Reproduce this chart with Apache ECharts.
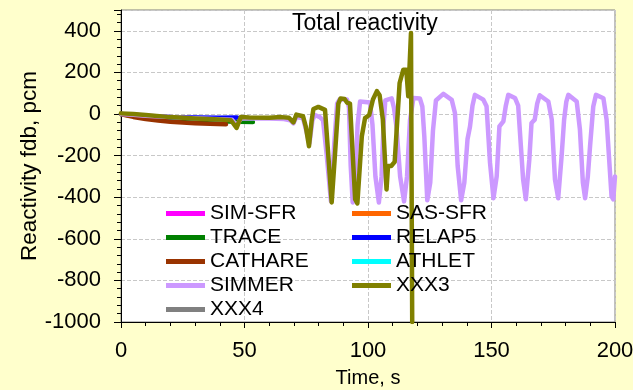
<!DOCTYPE html>
<html>
<head>
<meta charset="utf-8">
<script src="https://cdn.jsdelivr.net/npm/echarts@6/dist/echarts.min.js"></script>
<style>html,body{margin:0;padding:0;background:#FFFFCC;}#c{width:633px;height:390px;}</style>
</head>
<body>
<div id="c"></div>
<script>
// ---- data (time s, reactivity pcm) ----
const seriesNames = ['SIM-SFR','SAS-SFR','TRACE','RELAP5','CATHARE','ATHLET','SIMMER','XXX3','XXX4'];
const legendLeftCol = ['SIM-SFR','TRACE','CATHARE','SIMMER','XXX4'];
const legendRightCol = ['SAS-SFR','RELAP5','ATHLET','XXX3'];
const simSfr = [];
const sasSfr = [];
const athlet = [];
const xxx4 = [];
const trace = [[0,0],[5,-10],[10,-18],[20,-27],[30,-32],[40,-35],[48,-37],[53.4,-38]];
const relap5 = [[0,0],[5,-5],[10,-10],[20,-15],[30,-17],[40,-18],[47,-17]];
const cathare = [[0,0],[2,-6],[5,-14],[10,-24],[15,-31],[20,-37],[25,-41],[30,-44],[36,-47],[42.5,-49]];
const simmer = [[0,0],[5,-4],[10,-8],[20,-15],[30,-20],[40,-25],[45,-28],[46.8,-55],[48.5,-22],[55,-22],[60,-22],[66,-24],[68.5,-30],[69.8,-45],[71,-15],[73.7,-20],[75,-80],[76.3,-140],[77.5,-30],[78.5,-5],[80.5,-15],[81.8,-30],[83.3,-200],[85,-420],[86.3,-150],[87.5,50],[88.5,70],[91.5,70],[92.3,30],[93,-250],[93.8,-425],[94.8,-330],[95.8,-50],[96.8,60],[100.8,55],[101.8,-50],[103,-300],[104.4,-425],[105.5,-300],[106.3,-50],[107,65],[109.6,75],[110.5,30],[111.5,-60],[113,-300],[114.6,-420],[115.8,-300],[117,-30],[118.4,77],[121,75],[122,36],[122.8,-108],[124,-415],[125.2,-330],[126.3,-80],[127.5,65],[130.5,97],[133.9,68],[135.2,5],[136.3,-250],[137.7,-415],[139,-330],[140.3,-120],[141.3,-60],[142.3,40],[143.3,92],[146.7,69],[148,37],[149.4,-235],[150.8,-405],[152.1,-300],[153.2,-60],[154.8,-35],[155.8,40],[156.8,92],[159.5,77],[160.8,40],[162.8,-315],[163.9,-410],[165.3,-220],[166.2,-43],[167.5,-27],[168.5,50],[169.5,90],[173,60],[174.4,-27],[175.7,-315],[177,-405],[178.4,-200],[179.4,-27],[180.3,60],[181.1,92],[184.5,60],[185.8,-75],[187,-330],[187.9,-405],[189,-300],[189.9,-155],[191.2,36],[192.3,92],[195.3,76],[196.6,-27],[198.6,-396],[199.3,-410],[200,-300]];
const xxx3 = [[0,3],[5,0],[10,-5],[20,-15],[30,-22],[40,-27],[44.5,-30],[46.8,-67],[48.5,-15],[52,-17],[60,-18],[65,-15],[68,-18],[69.8,-40],[71,-3],[73.7,-11],[74.8,-60],[76.1,-155],[77.2,-30],[77.9,24],[79.9,34],[82.6,20],[85.3,-425],[86.6,-200],[88,50],[88.9,75],[90.5,72],[91.5,55],[92.7,50],[94.8,-410],[95.7,-430],[97.5,-107],[98.8,-20],[100.5,-5],[102,70],[103.6,110],[104.7,90],[106,-25],[107.5,-363],[108.1,-250],[109.4,-250],[110.8,-230],[112.8,149],[114.3,213],[115.5,213],[116.3,85],[117.4,389],[117.9,-1000]];
const seriesData = [simSfr, sasSfr, trace, relap5, cathare, athlet, simmer, xxx3, xxx4];
const seriesColors = ['#FF00FF','#FF6600','#008000','#0000FF','#993300','#00FFFF','#CC99FF','#808000','#808080'];
const xTicks = {min:0, max:200, interval:50};
const yTicks = {min:-1000, max:500, interval:200};

const FONT = '"Liberation Sans", Arial, sans-serif';
const chart = echarts.init(document.getElementById('c'), null, {renderer:'canvas'});
const legendBase = {
  orient: 'vertical', top: 203, padding: 0,
  icon: 'rect', itemWidth: 39, itemHeight: 5, itemGap: 3,
  textStyle: {fontFamily: FONT, fontSize: 21, color: '#000'}
};
const option = {
  backgroundColor: '#FFFFCC',
  animation: false,
  textStyle: {fontFamily: FONT, color: '#000'},
  title: {
    text: 'Total reactivity', left: 292, top: 12, padding: 0,
    textStyle: {fontFamily: FONT, fontSize: 23, fontWeight: 'normal', color: '#000'}
  },
  grid: {left: 121, right: 18, top: 10, bottom: 68, show: true, backgroundColor: '#FFFFFF', borderColor: '#808080', borderWidth: 1, containLabel: false, outerBoundsMode: 'none'},
  legend: [
    Object.assign({}, legendBase, {left: 166, data: legendLeftCol}),
    Object.assign({}, legendBase, {left: 352, data: legendRightCol})
  ],
  xAxis: {
    type: 'value', min: xTicks.min, max: xTicks.max, interval: xTicks.interval,
    name: 'Time, s', nameLocation: 'middle', nameGap: 46, nameMoveOverlap: false,
    nameTextStyle: {fontFamily: FONT, fontSize: 20, color: '#000'},
    axisLine: {onZero: false, lineStyle: {color: '#000', width: 1}},
    axisTick: {show: true, length: 6, lineStyle: {color: '#000'}},
    minorTick: {show: true, splitNumber: 5, length: 4, lineStyle: {color: '#000'}},
    axisLabel: {fontFamily: FONT, fontSize: 22, color: '#000', margin: 18},
    splitLine: {show: true, lineStyle: {type: 'dashed', color: '#c8c8c8', width: 1}}
  },
  yAxis: {
    type: 'value', min: yTicks.min, max: yTicks.max, interval: yTicks.interval,
    name: 'Reactivity fdb, pcm', nameLocation: 'middle', nameGap: 80, nameRotate: 90, nameMoveOverlap: false,
    nameTextStyle: {fontFamily: FONT, fontSize: 22.5, color: '#000'},
    axisLine: {onZero: false, lineStyle: {color: '#000', width: 1}},
    axisTick: {show: true, length: 7, lineStyle: {color: '#000'}},
    minorTick: {show: true, splitNumber: 5, length: 4, lineStyle: {color: '#000'}},
    axisLabel: {fontFamily: FONT, fontSize: 22, color: '#000', margin: 20,
      formatter: v => (v > 400 ? '' : String(v))},
    splitLine: {show: true, lineStyle: {type: 'dashed', color: '#c8c8c8', width: 1}}
  },
  series: seriesNames.map((n, i) => ({
    name: n, type: 'line', data: seriesData[i], symbol: 'none', showSymbol: false,
    color: seriesColors[i],
    lineStyle: {color: seriesColors[i], width: 4.5, join: 'round', cap: 'round'},
    clip: true
  }))
};
chart.setOption(option);
</script>
</body>
</html>
